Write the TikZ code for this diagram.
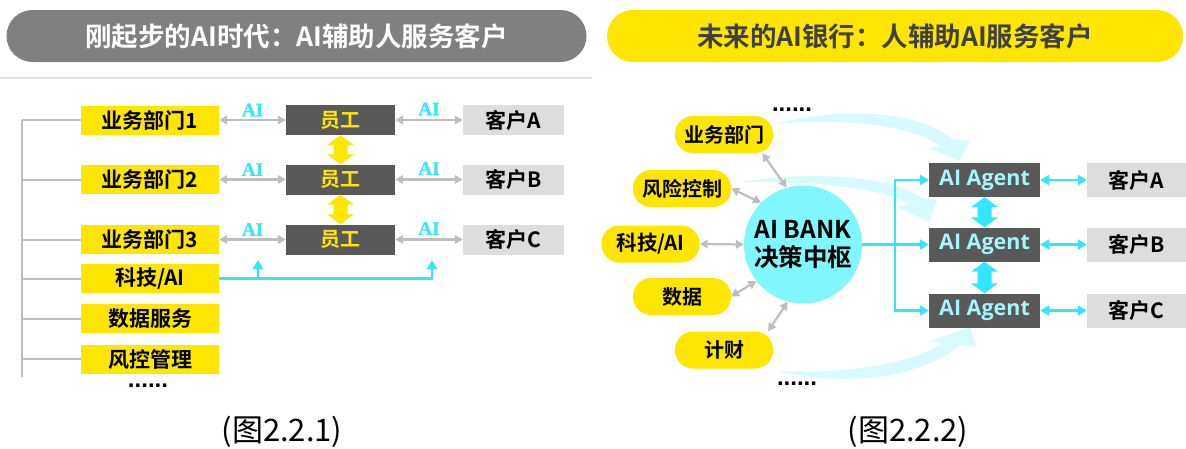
\documentclass[tikz,border=0pt]{standalone}
\usepackage{fontspec}
\newfontfamily\cjk{Noto Sans CJK SC}[BoldFont={Noto Sans CJK SC Bold}]
\newfontfamily\serifb{Liberation Serif}[BoldFeatures={FakeBold=1.2}]
\newfontfamily\opens{Open Sans}
\newfontfamily\lsans{Liberation Sans}
\usetikzlibrary{arrows.meta,calc}
\definecolor{ylw}{RGB}{255,230,0}
\definecolor{dgray}{RGB}{89,89,89}
\definecolor{lgray}{RGB}{221,221,221}
\definecolor{tgray}{RGB}{128,128,128}
\definecolor{arrgray}{RGB}{190,190,190}
\definecolor{cyanl}{RGB}{50,230,255}
\definecolor{bankc}{RGB}{128,247,255}
\definecolor{agtext}{RGB}{165,245,252}
\definecolor{swoosh}{RGB}{214,250,255}
\definecolor{ailab}{RGB}{60,228,250}
\definecolor{darktext}{RGB}{64,64,64}
\definecolor{sepc}{RGB}{224,224,224}
\newcommand\fatdbl[3]{\fill[#3] let \p1=(#1), \p2=(#2) in
 (\x1,\y1) -- (\x1+13.5pt,\y1-10pt) -- (\x1+7pt,\y1-10pt) -- (\x2+7pt,\y2+10pt) -- (\x2+13.5pt,\y2+10pt) -- (\x2,\y2) -- (\x2-13.5pt,\y2+10pt) -- (\x2-7pt,\y2+10pt) -- (\x1-7pt,\y1-10pt) -- (\x1-13.5pt,\y1-10pt) -- cycle;}
\tikzset{
  cjkb/.style={font=\cjk\bfseries\fontsize{#1}{#1}\selectfont},
  title/.style={rounded corners=26pt, minimum height=52pt, inner sep=0pt, cjkb=26.5},
  ybox/.style={fill=ylw, minimum width=138pt, minimum height=29pt, inner sep=0pt, cjkb=21},
  ebox/.style={fill=dgray, text=ylw, minimum width=109pt, minimum height=30pt, inner sep=0pt, cjkb=20},
  cbox/.style={fill=lgray, minimum width=101pt, minimum height=30pt, inner sep=0pt, cjkb=21},
  rpill/.style={fill=ylw, rounded corners=18pt, minimum width=98pt, minimum height=37pt, inner sep=0pt, cjkb=20},
  abox/.style={fill=dgray, text=agtext, minimum width=111pt, minimum height=34pt, inner sep=0pt, font=\opens\bfseries\fontsize{21.5}{21.5}\selectfont},
  kbox/.style={fill=lgray, minimum width=99pt, minimum height=34pt, inner sep=0pt, cjkb=21},
  dots/.style={inner sep=0pt, font=\lsans\bfseries\fontsize{24}{24}\selectfont},
  ailabel/.style={text=ailab, inner sep=0pt, font=\serifb\bfseries\fontsize{19}{19}\selectfont},
  spine/.style={draw=arrgray, line width=2pt},
  garrow/.style={draw=arrgray, line width=2.2pt, arrows={Triangle[length=8pt,width=8.5pt]-Triangle[length=8pt,width=8.5pt]}},
  cline/.style={draw=cyanl, line width=2.5pt},
  cone/.style={cline, arrows={-Triangle[length=9pt,width=10pt]}},
  ctwo/.style={cline, arrows={Triangle[length=9pt,width=10pt]-Triangle[length=9pt,width=10pt]}},
  caption/.style={inner sep=0pt, font=\cjk\fontsize{31}{31}\selectfont}
}
\begin{document}
\begin{tikzpicture}[x=1pt,y=-1pt]
\useasboundingbox (0,0) rectangle (1186,448);
% ---------------- left panel ----------------
\node[title, fill=tgray, text=white, minimum width=580pt] (tl) at (296.5,36) {刚起步的AI时代：AI辅助人服务客户};
\coordinate (sepa) at (0,78);
\coordinate (sepb) at (592,78);
\draw[sepc, line width=1.5pt] (sepa) -- (sepb);

\node[ybox] (d1) at (150,120) {业务部门1};
\node[ybox] (d2) at (150,179.5) {业务部门2};
\node[ybox] (d3) at (150,239.5) {业务部门3};
\node[ybox] (d4) at (150,278.5) {科技/AI};
\node[ybox] (d5) at (150,318.5) {数据服务};
\node[ybox] (d6) at (150,359) {风控管理};
\node[dots] (ldots) at (148,386) {......};

\coordinate (sp1) at (22,120);
\coordinate (sp2) at (22,377);
\draw[spine] (sp1) -- (sp2);
\foreach \n in {d1,d2,d3,d4,d5,d6} \draw[spine] (sp1 |- \n.west) -- (\n.west);

\node[ebox] (e1) at (340.5,120) {员工};
\node[ebox] (e2) at (340.5,179.5) {员工};
\node[ebox] (e3) at (340.5,239.5) {员工};
\node[cbox] (c1) at (513.5,120) {客户A};
\node[cbox] (c2) at (513.5,179.5) {客户B};
\node[cbox] (c3) at (513.5,239.5) {客户C};

\foreach \i in {1,2,3} {
  \draw[garrow] (d\i.east) -- (e\i.west) node[ailabel, midway, yshift=10pt] {AI};
  \draw[garrow] (e\i.east) -- (c\i.west) node[ailabel, midway, yshift=11pt] {AI};
}
\fatdbl{e1.south}{e2.north}{ylw}
\fatdbl{e2.south}{e3.north}{ylw}

\coordinate (up1) at (258,260);
\coordinate (up2) at (432,260);
\draw[cline, arrows={-Triangle[length=9pt,width=10pt]}, line join=miter] (d4.east) -- (up2 |- d4.east) -- (up2);
\draw[cone] (up1 |- d4.east) -- (up1);

\node[caption] (cap1) at (282,432) {(图2.2.1)};

% ---------------- right panel ----------------
\node[title, fill=ylw, text=darktext, minimum width=576pt] (tr) at (895,36) {未来的AI银行：人辅助AI服务客户};

% light swooshes
\fill[swoosh] (775,124) .. controls (830,109) and (915,107) .. (952,139)
  -- (970,141) -- (959,161) -- (929,148) -- (940,146)
  .. controls (905,121) and (830,119) .. (775,124) -- cycle;
\fill[swoosh] (740,182) .. controls (810,171) and (890,175) .. (922,198)
  -- (937,200) -- (929,222) -- (897,207) -- (909,204)
  .. controls (880,187) and (810,181) .. (740,182) -- cycle;
\fill[swoosh] (778,371) .. controls (850,388) and (925,376) .. (960,345)
  -- (976,347) -- (970,327) -- (930,341) -- (943,343)
  .. controls (915,362) and (850,375) .. (778,371) -- cycle;

\node[dots] (rdots1) at (792,110) {......};
\node[dots] (rdots2) at (797,384) {......};

\node[rpill] (p1) at (724,134.5) {业务部门};
\node[rpill] (p2) at (682,188.5) {风险控制};
\node[rpill, cjkb=20.5] (p3) at (650.5,244) {科技/AI};
\node[rpill] (p4) at (682,296.5) {数据};
\node[rpill] (p5) at (724,350) {计财};

\node[circle, fill=bankc, minimum size=118pt, inner sep=0pt, align=center,
  font=\cjk\bfseries\fontsize{24.5}{28}\selectfont] (bank) at (803,244.5) {AI BANK\\决策中枢};

\draw[garrow] (p1.-26) -- (bank.106);
\draw[garrow] (p2.east) -- (bank.135);
\draw[garrow] (p3.east) -- (bank.west);
\draw[garrow] (p4.east) -- (bank.-142);
\draw[garrow] (p5.23) -- (bank.-105);

\node[abox] (a1) at (984.5,180) {AI Agent};
\node[abox] (a2) at (984.5,244.5) {AI Agent};
\node[abox] (a3) at (984.5,310.5) {AI Agent};
\node[kbox] (k1) at (1136.5,180) {客户A};
\node[kbox] (k2) at (1136.5,244.5) {客户B};
\node[kbox] (k3) at (1136.5,310.5) {客户C};

\coordinate (trunk) at (895,244.5);
\draw[ctwo, line join=miter] (a1.west) -| (trunk |- a3.west) -- (a3.west);
\draw[cone] (bank.east) -- (a2.west);
\foreach \i in {1,2,3} \draw[ctwo] (a\i.east) -- (k\i.west);
\fatdbl{a1.south}{a2.north}{cyanl}
\fatdbl{a2.south}{a3.north}{cyanl}

\node[caption] (cap2) at (908,432) {(图2.2.2)};
\end{tikzpicture}
\end{document}
